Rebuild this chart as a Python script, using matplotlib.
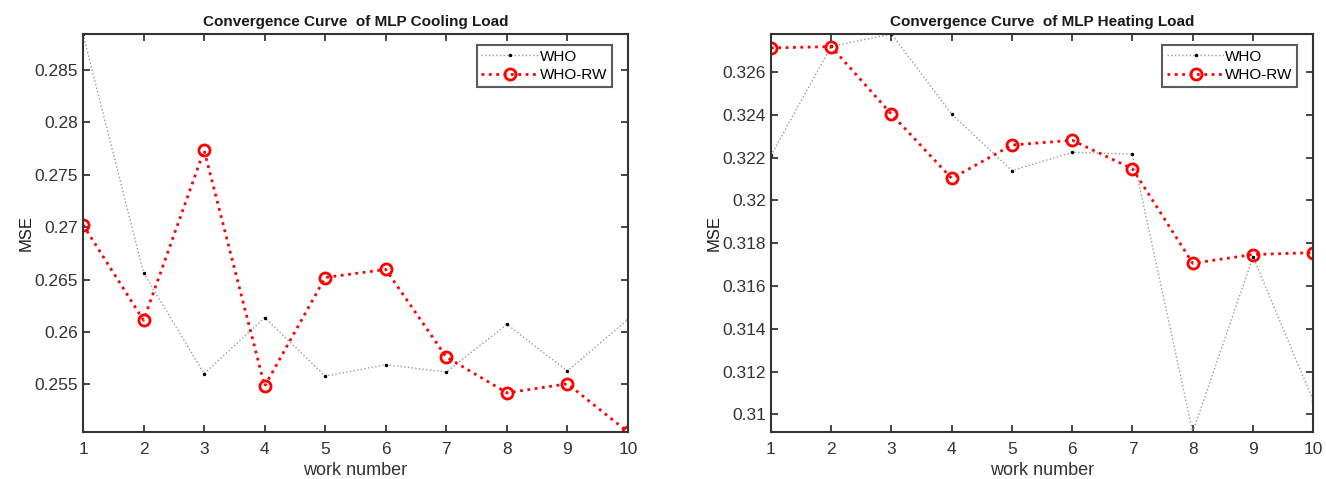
import numpy as np
from matplotlib import pyplot as plt

plt.rcParams['font.family'] = ['Liberation Sans', 'DejaVu Sans']
plt.rcParams['font.size'] = 11

#---- Data

work = np.arange(1, 11)

who_cool = [0.2884, 0.26564, 0.25602, 0.26137, 0.2558,
            0.25688, 0.25618, 0.26073, 0.25627, 0.26121]
whorw_cool = [0.27022, 0.26111, 0.27732, 0.25484, 0.26519,
              0.26596, 0.25761, 0.2542, 0.25506, 0.25046]

who_heat = [0.3221, 0.3272, 0.32778, 0.32403, 0.32139,
            0.32225, 0.32216, 0.30917, 0.31736, 0.31063]
whorw_heat = [0.32713, 0.32719, 0.32403, 0.32103, 0.32259,
              0.32281, 0.32148, 0.31706, 0.31747, 0.31756]

cool_ticks = [0.255, 0.26, 0.265, 0.27, 0.275, 0.28, 0.285]
cool_labels = ['0.255', '0.26', '0.265', '0.27', '0.275', '0.28', '0.285']
heat_ticks = [0.31, 0.312, 0.314, 0.316, 0.318, 0.32, 0.322, 0.324, 0.326]
heat_labels = ['0.31', '0.312', '0.314', '0.316', '0.318', '0.32', '0.322', '0.324', '0.326']

titles = ['Convergence Curve  of MLP Cooling Load',
          'Convergence Curve  of MLP Heating Load']


#---- Define a function to plot data

def plot_data(ax, who, whorw, yticks, ylabels, title):

    ax.plot(work, who, ':', color='0.6', lw=1.0,
            marker='.', ms=3, mfc='k', mec='k', label='WHO')
    ax.plot(work, whorw, ':', color='red', lw=2.0,
            marker='o', ms=8, mfc='none', mec='red', mew=2, label='WHO-RW')

    ymin = min(min(who), min(whorw))
    ymax = max(max(who), max(whorw))
    ax.set_xlim(1, 10)
    ax.set_ylim(ymin, ymax)
    ax.set_xticks(work)
    ax.set_yticks(yticks)
    ax.set_yticklabels(ylabels)

    ax.tick_params(which='both', direction='in', top=True, right=True,
                   colors='0.15', labelcolor='0.2', length=5, width=1.2,
                   labelsize=12.5)
    ax.tick_params(axis='x', pad=7)
    for s in ax.spines.values():
        s.set_color('0.2')
        s.set_linewidth(1.5)

    ax.set_title(title, fontsize=11, fontweight='bold', color='0.1', pad=6)
    ax.set_xlabel('work number', color='0.2', fontsize=13, labelpad=4)
    ax.set_ylabel('MSE', color='0.1', fontsize=12, labelpad=1)

    leg = ax.legend(loc='upper right', bbox_to_anchor=(0.9706, 0.972),
                    fontsize=11, frameon=True, fancybox=False,
                    edgecolor='0.2', handlelength=3.8, handletextpad=0.05,
                    borderpad=0.3, labelspacing=0.3, borderaxespad=0.0)
    leg.get_frame().set_linewidth(1.5)

    return ax


#---- Script

if __name__ == '__main__':

    fig = plt.figure(figsize=(13.26, 4.79), dpi=100)
    ax1 = fig.add_axes([0.0626, 0.098, 0.411, 0.831])
    ax2 = fig.add_axes([0.5814, 0.098, 0.409, 0.831])

    plot_data(ax1, who_cool, whorw_cool, cool_ticks, cool_labels, titles[0])
    plot_data(ax2, who_heat, whorw_heat, heat_ticks, heat_labels, titles[1])

    fig.savefig('out.png', dpi=100)
